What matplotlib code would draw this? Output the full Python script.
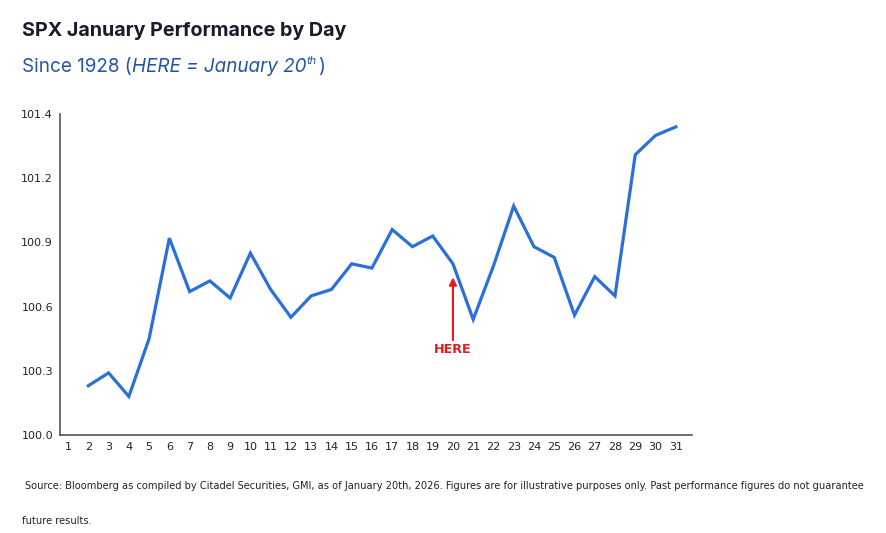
import matplotlib.pyplot as plt
import numpy as np

# data
days = list(range(2, 32))
values = [100.23, 100.29, 100.18, 100.45, 100.92, 100.67, 100.72, 100.64, 100.85, 100.68,
          100.55, 100.65, 100.68, 100.80, 100.78, 100.96, 100.88, 100.93, 100.80, 100.54,
          100.79, 101.07, 100.88, 100.83, 100.56, 100.74, 100.65, 101.31, 101.40, 101.44]
xticks = list(range(1, 32))
yticks = [100.0, 100.3, 100.6, 100.9, 101.2, 101.5]
ytick_labels = ['100.0', '100.3', '100.6', '100.9', '101.2', '101.4']
here_day = 20

fig = plt.figure(figsize=(8.86, 5.33), dpi=100)
ax = fig.add_axes([0.0677, 0.184, 0.7133, 0.602])

ax.plot(days, values, color='#2a6fdb', lw=2.3, solid_joinstyle='miter')
ax.set_xlim(0.6, 31.8)
ax.set_ylim(100.0, 101.5)
ax.set_xticks(xticks)
ax.set_xticklabels([str(d) for d in xticks], fontsize=8, color='#222222')
ax.set_yticks(yticks)
ax.set_yticklabels(ytick_labels, fontsize=8, color='#222222')
ax.tick_params(length=0, pad=5)
for s in ['top', 'right']:
    ax.spines[s].set_visible(False)
for s in ['left', 'bottom']:
    ax.spines[s].set_color('#555555')
    ax.spines[s].set_linewidth(1.2)

# HERE arrow
ax.annotate('', xy=(here_day, 100.75), xytext=(here_day, 100.43),
            arrowprops=dict(arrowstyle='-|>', color='#e8191c', lw=1.5, mutation_scale=11))
ax.text(here_day, 100.40, 'HERE', color='#e8191c', fontsize=9.2, fontweight='bold',
        ha='center', va='center')

# title and subtitle
fig.text(22 / 886, 1 - 31 / 533, 'SPX January Performance by Day', fontsize=14.2,
         fontweight='bold', color='#1a1a2a', family='Inter', va='center')

fig.canvas.draw()
r = fig.canvas.get_renderer()
blue = '#2455a8'
x = 22 / 886
y = 1 - 67 / 533
parts = [('Since 1928 (', 'normal', 13.6, 0), ('HERE = January 20', 'italic', 13.6, 0),
         ('th', 'italic', 8, 0.012), (')', 'normal', 13.6, 0)]
for txt, style, size, dy in parts:
    t = fig.text(x, y + dy, txt, fontsize=size, style=style, color=blue, family='Inter',
                 va='center')
    bb = t.get_window_extent(r)
    x += bb.width / fig.bbox.width + (0.002 if style == 'italic' and size < 10 else 0)

# footer
fig.text(25 / 886, 1 - 486 / 533,
         'Source: Bloomberg as compiled by Citadel Securities, GMI, as of January 20th, 2026. '
         'Figures are for illustrative purposes only. Past performance figures do not guarantee',
         fontsize=7.15, color='#222222', family=['Liberation Sans Narrow', 'DejaVu Sans'],
         va='center')
fig.text(22 / 886, 1 - 521 / 533, 'future results.', fontsize=7.15, color='#222222',
         family=['Liberation Sans Narrow', 'DejaVu Sans'], va='center')

fig.savefig('out.png', dpi=100)
